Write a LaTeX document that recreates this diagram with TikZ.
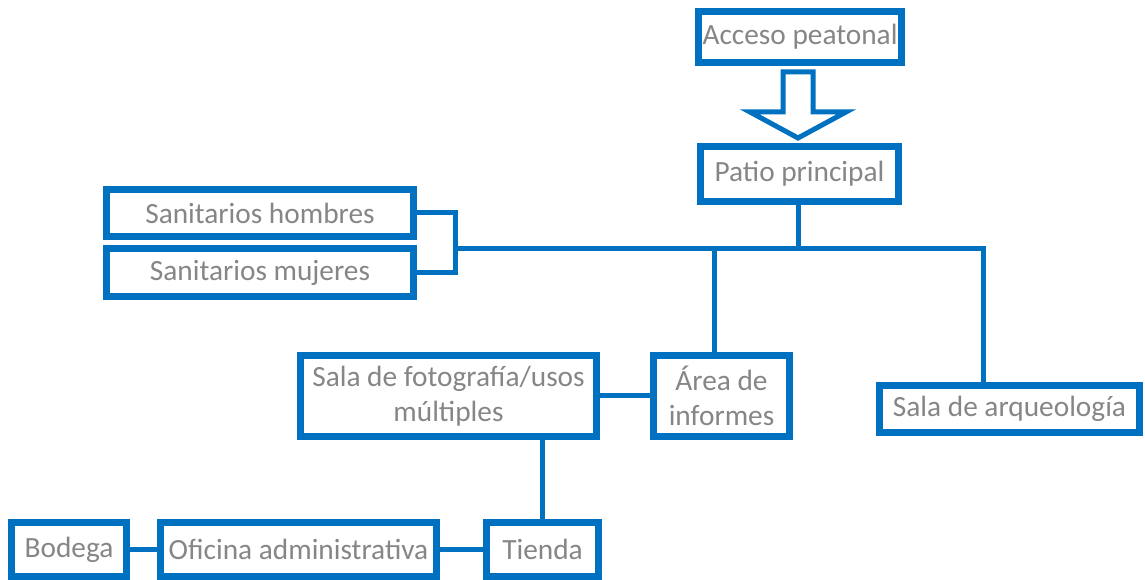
\documentclass[tikz,border=0pt]{standalone}
\usepackage{fontspec}
\setmainfont{Carlito}
\usepackage{tikz}
\usetikzlibrary{calc, positioning}
\definecolor{caja}{RGB}{0,112,192}
\definecolor{letra}{RGB}{134,134,134}

\begin{document}
\begin{tikzpicture}[x=0.75pt, y=-0.75pt,
    area/.style={draw=caja, line width=5.25pt, fill=white, text=letra, align=center,
      inner sep=0pt, font=\fontsize{22pt}{26pt}\selectfont},
    enlace/.style={draw=caja, line width=3.75pt},
    flecha/.style={draw=caja, line width=3.75pt, fill=white, line join=miter}]
   \useasboundingbox (0,0) rectangle (1145,580);
   % recorrido principal
   \coordinate (llave) at (455,249);
   \coordinate (bus) at (798,249);
   \coordinate (ramal) at (714,249);
   \coordinate (esquina) at (983,249);
   \node[area, minimum width=152pt, minimum height=38pt] (acceso) at (800,37) {Acceso peatonal};
   \node[area, minimum width=148.5pt, minimum height=41pt] (patio) at (799.5,174) {Patio principal};
   \node[area, minimum width=230pt, minimum height=35pt] (hombres) at (260,213) {Sanitarios hombres};
   \node[area, minimum width=230pt, minimum height=36pt] (mujeres) at (260,272.5) {Sanitarios mujeres};
   \node[area, minimum width=222pt, minimum height=61pt] (fotografia) at (448.5,396) {Sala de fotografía/usos\\múltiples};
   \node[area, minimum width=102pt, minimum height=61pt] (informes) at (721.5,396) {Área de\\informes};
   \node[area, minimum width=195pt, minimum height=35pt] (arqueologia) at (1009.5,409) {Sala de arqueología};
   \node[area, minimum width=86pt, minimum height=40pt] (bodega) at (69,549.5) {Bodega};
   \node[area, minimum width=207pt, minimum height=40pt] (oficina) at (298.5,549.5) {Oficina administrativa};
   \node[area, minimum width=84pt, minimum height=40pt] (tienda) at (542.5,549.5) {Tienda};
   % flecha de acceso
   \draw[flecha] (783,72) -- (813,72) -- (813,112) -- (846,112) -- (798,138) -- (750,112) -- (783,112) -- cycle;
   % conexiones
   \draw[enlace] (patio.south -| bus) -- (bus);
   \draw[enlace] (llave) -- (esquina) -- (esquina |- arqueologia.north);
   \draw[enlace] (ramal) -- (ramal |- informes.north);
   \draw[enlace] (hombres.east) -| (llave) |- (mujeres.east);
   \draw[enlace] (fotografia.east) -- (informes.west);
   \draw[enlace] (tienda.north) -- (tienda.north |- fotografia.south);
   \draw[enlace] (bodega.east) -- (oficina.west);
   \draw[enlace] (oficina.east) -- (tienda.west);
\end{tikzpicture}
\end{document}
